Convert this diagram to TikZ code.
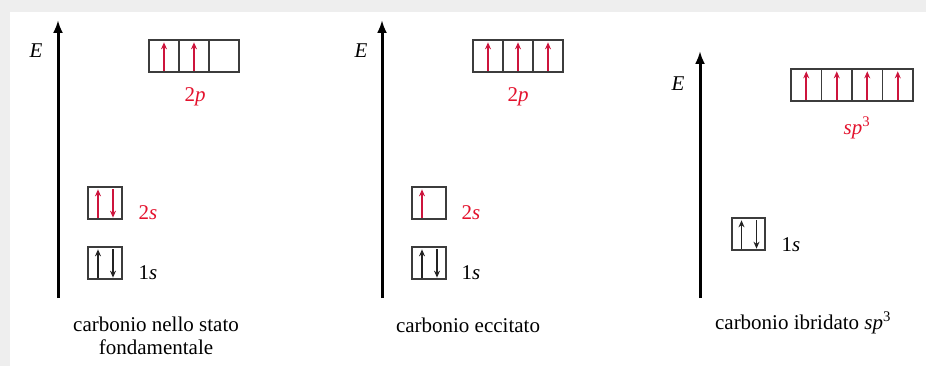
\documentclass[tikz,border=0pt]{standalone}
\usepackage{fontspec}
\setmainfont{Liberation Serif}
\usetikzlibrary{arrows.meta}
\definecolor{lbl}{RGB}{228,18,45}
\definecolor{elr}{RGB}{205,20,60}
\definecolor{boxc}{RGB}{60,60,60}
\definecolor{elk}{RGB}{35,35,35}
\definecolor{bgg}{RGB}{238,238,238}
\tikzset{
  orb/.style={draw=boxc, line width=1.3pt, minimum width=30pt, minimum height=32pt, inner sep=0pt},
  orbs/.style={orb, minimum width=34pt},
  axis/.style={line width=3pt, -{Latex[length=13pt,width=10pt]}},
  eup/.style={line width=1.6pt, -{Stealth[length=7pt,width=6pt]}},
  txt/.style={font=\fontsize{21}{23}\selectfont, inner sep=0pt},
  lab/.style={txt, text=lbl},
}
\begin{document}
\begin{tikzpicture}[x=1pt,y=-1pt]
\fill[bgg] (0,0) rectangle (926,366);
\fill[white] (10,12) rectangle (926,366);
\useasboundingbox (0,0) rectangle (926,366);
% ---------- panel 1
\coordinate (a1b) at (58,298); \coordinate (a1t) at (58,20);
\draw[axis] (a1b) -- (a1t);
\node[txt] (E1) at (36,51) {\textit{E}};
\node[orb] (p1a) at (164,56) {};
\node[orb] (p1b) at (194,56) {};
\node[orb] (p1c) at (224,56) {};
\foreach \n in {p1a,p1b} \draw[eup,elr] ([yshift=2pt]\n.south) -- ([yshift=-3pt]\n.north);
\node[lab] (l2p1) at (195,97) {2\textit{p}};
\node[orbs] (s2a) at (105,203) {};
\draw[eup,elr] ([xshift=-7pt,yshift=2pt]s2a.south) -- ([xshift=-7pt,yshift=-3pt]s2a.north);
\draw[eup,elr] ([xshift=8pt,yshift=-3pt]s2a.north) -- ([xshift=8pt,yshift=2pt]s2a.south);
\node[lab] (l2s1) at (148,213) {2\textit{s}};
\node[orbs] (s1a) at (105,263) {};
\draw[eup,elk] ([xshift=-7pt,yshift=2pt]s1a.south) -- ([xshift=-7pt,yshift=-3pt]s1a.north);
\draw[eup,elk] ([xshift=8pt,yshift=-3pt]s1a.north) -- ([xshift=8pt,yshift=2pt]s1a.south);
\node[txt] (l1s1) at (148,273) {1\textit{s}};
\node[txt, align=center] (c1) at (156,336) {carbonio nello stato\\fondamentale};
% ---------- panel 2
\coordinate (a2b) at (382,298); \coordinate (a2t) at (382,20);
\draw[axis] (a2b) -- (a2t);
\node[txt] (E2) at (361,51) {\textit{E}};
\node[orb] (p2a) at (488,56) {};
\node[orb] (p2b) at (518,56) {};
\node[orb] (p2c) at (548,56) {};
\foreach \n in {p2a,p2b,p2c} \draw[eup,elr] ([yshift=2pt]\n.south) -- ([yshift=-3pt]\n.north);
\node[lab] (l2p2) at (518,97) {2\textit{p}};
\node[orbs] (s2b) at (429,203) {};
\draw[eup,elr] ([xshift=-7pt,yshift=2pt]s2b.south) -- ([xshift=-7pt,yshift=-3pt]s2b.north);
\node[lab] (l2s2) at (471,213) {2\textit{s}};
\node[orbs] (s1b) at (429,263) {};
\draw[eup,elk] ([xshift=-7pt,yshift=2pt]s1b.south) -- ([xshift=-7pt,yshift=-3pt]s1b.north);
\draw[eup,elk] ([xshift=8pt,yshift=-3pt]s1b.north) -- ([xshift=8pt,yshift=2pt]s1b.south);
\node[txt] (l1s2) at (471,273) {1\textit{s}};
\node[txt] (c2) at (468,325) {carbonio eccitato};
% ---------- panel 3
\coordinate (a3b) at (700,298); \coordinate (a3t) at (700,51);
\draw[axis] (a3b) -- (a3t);
\node[txt] (E3) at (678,84) {\textit{E}};
\node[orb, minimum width=30.5pt] (h1) at (806.25,85) {};
\node[orb, minimum width=30.5pt] (h2) at (836.75,85) {};
\node[orb, minimum width=30.5pt] (h3) at (867.25,85) {};
\node[orb, minimum width=30.5pt] (h4) at (897.75,85) {};
\foreach \n in {h1,h2,h3,h4} \draw[eup,elr] ([yshift=2pt]\n.south) -- ([yshift=-3pt]\n.north);
\node[lab] (lsp) at (857,128) {\textit{sp}$^{\mathrm{3}}$};
\node[orbs, minimum width=33pt] (s1c) at (748.5,234) {};
\draw[eup,elk] ([xshift=-7pt,yshift=2pt]s1c.south) -- ([xshift=-7pt,yshift=-3pt]s1c.north);
\draw[eup,elk] ([xshift=8pt,yshift=-3pt]s1c.north) -- ([xshift=8pt,yshift=2pt]s1c.south);
\node[txt] (l1s3) at (791,245) {1\textit{s}};
\node[txt] (c3) at (803,323) {carbonio ibridato \textit{sp}$^{\mathrm{3}}$};
\end{tikzpicture}
\end{document}
